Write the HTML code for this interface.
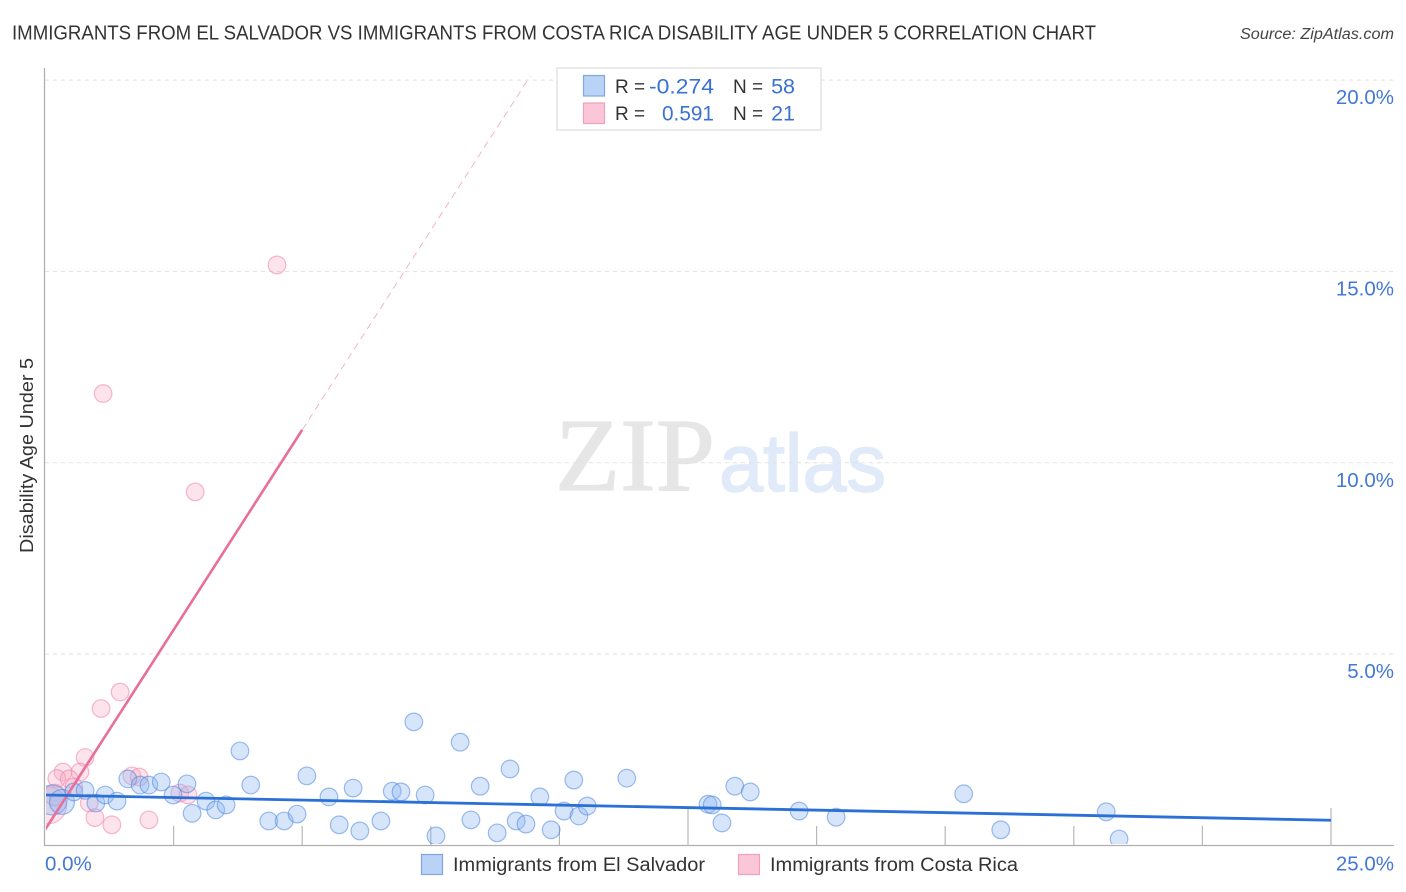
<!DOCTYPE html>
<html lang="en">
<head>
<meta charset="utf-8">
<title>Disability Age Under 5 Correlation Chart</title>
<style>
html,body{margin:0;padding:0;background:#fff;}
svg{display:block;font-family:"Liberation Sans",sans-serif;}
</style>
</head>
<body>
<svg id="chart" width="1406" height="892" viewBox="0 0 1406 892" xmlns="http://www.w3.org/2000/svg">
  <rect x="0" y="0" width="1406" height="892" fill="#ffffff"/>
  <g>
    <text x="555" y="490" font-family="'Liberation Serif',serif" font-size="104" fill="#e6e6e6" stroke="#e6e6e6" stroke-width="1.2" textLength="160" lengthAdjust="spacingAndGlyphs">ZIP</text>
    <text x="719" y="491" font-size="82" fill="#e0eaf9" stroke="#e0eaf9" stroke-width="1.5" textLength="167" lengthAdjust="spacingAndGlyphs">atlas</text>
  </g>
  <g id="grid"></g>
  <g id="ticks"></g>
  <defs><clipPath id="plot-clip"><rect x="46" y="60" width="1360" height="784"/></clipPath></defs>
  <g id="marks" clip-path="url(#plot-clip)"></g>
  <g id="trends" clip-path="url(#plot-clip)"></g>
  <line x1="44.5" y1="68" x2="44.5" y2="845.5" stroke="#b0b0b0" stroke-width="1.3"/>
  <line x1="44" y1="845.5" x2="1394" y2="845.5" stroke="#b0b0b0" stroke-width="1.3"/>
  <g id="labels"></g>

  <text x="12" y="39.5" font-size="20" fill="#333333" textLength="1084" lengthAdjust="spacingAndGlyphs">IMMIGRANTS FROM EL SALVADOR VS IMMIGRANTS FROM COSTA RICA DISABILITY AGE UNDER 5 CORRELATION CHART</text>
  <text x="1394" y="39" font-size="15.5" font-style="italic" fill="#444444" text-anchor="end" textLength="154" lengthAdjust="spacingAndGlyphs">Source: ZipAtlas.com</text>
  <text transform="translate(33,553) rotate(-90)" font-size="18" fill="#333333" textLength="195" lengthAdjust="spacingAndGlyphs">Disability Age Under 5</text>

  <g>
    <rect x="557" y="68" width="264" height="62" fill="#ffffff" stroke="#dddddd" stroke-width="1.2"/>
    <rect x="583.5" y="75.5" width="21" height="20.5" fill="#b9d3f7" stroke="#7fa8e0" stroke-width="1.2"/>
    <rect x="583.5" y="103" width="21" height="20.5" fill="#fac6d8" stroke="#f0a0bc" stroke-width="1.2"/>
    <text x="615" y="93" font-size="19" fill="#333333">R =</text>
    <text x="714" y="93.5" font-size="21.5" fill="#3a72d2" text-anchor="end" textLength="65" lengthAdjust="spacingAndGlyphs">-0.274</text>
    <text x="733" y="93" font-size="19" fill="#333333">N =</text>
    <text x="795" y="93.5" font-size="21.5" fill="#3a72d2" text-anchor="end">58</text>
    <text x="615" y="120" font-size="19" fill="#333333">R =</text>
    <text x="714" y="120.5" font-size="21.5" fill="#3a72d2" text-anchor="end" textLength="52" lengthAdjust="spacingAndGlyphs">0.591</text>
    <text x="733" y="120" font-size="19" fill="#333333">N =</text>
    <text x="795" y="120.5" font-size="21.5" fill="#3a72d2" text-anchor="end">21</text>
  </g>

  <g>
    <rect x="421.5" y="854.5" width="21" height="20" fill="#b9d3f7" stroke="#7fa8e0" stroke-width="1.2"/>
    <text x="453" y="871" font-size="19" fill="#333333" textLength="252" lengthAdjust="spacingAndGlyphs">Immigrants from El Salvador</text>
    <rect x="738.5" y="854.5" width="21" height="20" fill="#fac6d8" stroke="#f0a0bc" stroke-width="1.2"/>
    <text x="770" y="871" font-size="19" fill="#333333" textLength="248" lengthAdjust="spacingAndGlyphs">Immigrants from Costa Rica</text>
  </g>
</svg>
<script>
// Data: percentages. Weight scales a marker's area.
var blueX = [0.14,0.33,0.56,0.78,0.99,1.17,1.40,1.61,1.85,2.02,2.26,2.76,2.49,2.86,3.13,3.32,3.52,3.79,4.00,4.35,4.65,4.90,5.09,5.52,5.72,5.99,6.12,6.53,6.75,6.92,7.39,7.60,7.17,8.07,9.04,8.46,8.28,8.79,9.16,9.35,9.62,9.84,10.09,10.28,10.38,10.54,11.31,12.89,12.97,13.16,13.41,13.71,14.66,15.38,17.86,18.58,20.63,20.88];
var blueY = [1.19,1.14,1.40,1.44,1.11,1.32,1.16,1.74,1.58,1.58,1.66,1.61,1.32,0.84,1.16,0.93,1.06,2.47,1.58,0.64,0.64,0.82,1.82,1.27,0.54,1.50,0.38,0.64,1.42,1.40,1.32,0.25,3.23,2.70,2.00,1.55,0.67,0.33,0.64,0.56,1.27,0.41,0.90,1.71,0.77,1.03,1.76,1.08,1.06,0.59,1.55,1.40,0.90,0.74,1.35,0.41,0.88,0.17];
var blueWeight = [2.9,2.0,1,1,1,1,1,1,1,1,1,1,1,1,1,1,1,1,1,1,1,1,1,1,1,1,1,1,1,1,1,1,1,1,1,1,1,1,1,1,1,1,1,1,1,1,1,1,1,1,1,1,1,1,1,1,1,1];
var pinkX = [1.46,1.09,0.78,0.68,0.35,0.23,0.47,0.56,1.69,1.83,2.62,2.78,0.86,0.97,1.30,2.02,0.06,0.19,1.13,2.92,4.51];
var pinkY = [4.01,3.58,2.30,1.92,1.92,1.75,1.74,1.53,1.82,1.79,1.37,1.32,1.11,0.73,0.54,0.67,1.05,1.32,11.81,9.24,15.17];
var pinkWeight = [1,1,1,1,1,1,1,1,1,1,1,1,1,1,1,1,4.4,1.5,1,1,1];
var blueTrendX = [0,25];
var blueTrendY = [1.32,0.66];
var pinkTrendX = [0,5];
var pinkTrendY = [0.41,10.86];
var pinkTrendExtX = [5,9.43];
var pinkTrendExtY = [10.86,20.1];
var yTickValues = [5,10,15,20];
var yTickLabels = ["5.0%","10.0%","15.0%","20.0%"];
var xTickValues = [2.5,5,7.5,10,12.5,15,17.5,20,22.5,25];
var xMajorTicks = [12.5,25];
var xEndValues = [0,25];
var xEndLabels = ["0.0%","25.0%"];

function xScale(v){return 45+v*51.44;}
function yScale(v){return 845.5-v*38.27;}
var NS='http://www.w3.org/2000/svg';
function make(tag,attrs,parent){
  var el=document.createElementNS(NS,tag);
  for(var k in attrs){el.setAttribute(k,attrs[k]);}
  parent.appendChild(el);
  return el;
}
var grid=document.getElementById('grid');
var ticks=document.getElementById('ticks');
var marks=document.getElementById('marks');
var trends=document.getElementById('trends');
var labels=document.getElementById('labels');

yTickValues.forEach(function(v,i){
  var line=make('line',{x1:45,x2:1394,y1:yScale(v),y2:yScale(v),stroke:'#e2e2e2','stroke-width':1,'stroke-dasharray':'4 4'},grid);
  
  
  var t=make('text',{x:1394,y:yScale(v)+24,'font-size':20.5,fill:'#4478d6','text-anchor':'end'},labels);
  t.textContent=yTickLabels[i];
  
  
});

xTickValues.forEach(function(v){
  var major=xMajorTicks.indexOf(v)>=0;
  var line=make('line',{x1:xScale(v),x2:xScale(v),y1:major?808:826,y2:845.5,stroke:'#b8b8b8','stroke-width':1.2},ticks);
  
  
});

xEndValues.forEach(function(v,i){
  var t=make('text',{x:i===0?45:1394,y:870.5,'font-size':20.5,fill:'#4478d6','text-anchor':i===0?'start':'end'},labels);
  t.textContent=xEndLabels[i];
  
  
});

pinkX.forEach(function(v,i){
  var c=make('circle',{cx:xScale(v),cy:yScale(pinkY[i]),r:8.8*Math.sqrt(pinkWeight[i]),fill:'rgba(250,170,195,0.33)',stroke:'rgba(238,130,165,0.55)','stroke-width':1.2},marks);
  
  
});

blueX.forEach(function(v,i){
  var c=make('circle',{cx:xScale(v),cy:yScale(blueY[i]),r:8.8*Math.sqrt(blueWeight[i]),fill:'rgba(140,182,240,0.36)',stroke:'rgba(70,130,220,0.52)','stroke-width':1.2},marks);
  
  
});

var pinkExt=make('line',{x1:xScale(pinkTrendExtX[0]),y1:yScale(pinkTrendExtY[0]),x2:xScale(pinkTrendExtX[1]),y2:yScale(pinkTrendExtY[1]),stroke:'#f2b4c8','stroke-width':1,'stroke-dasharray':'7 5'},trends);


var pinkLine=make('line',{x1:xScale(pinkTrendX[0]),y1:yScale(pinkTrendY[0]),x2:xScale(pinkTrendX[1]),y2:yScale(pinkTrendY[1]),stroke:'#e86f9a','stroke-width':2.6},trends);


var blueLine=make('line',{x1:xScale(blueTrendX[0]),y1:yScale(blueTrendY[0]),x2:xScale(blueTrendX[1]),y2:yScale(blueTrendY[1]),stroke:'#2a70d6','stroke-width':2.8},trends);


</script>
</body>
</html>
